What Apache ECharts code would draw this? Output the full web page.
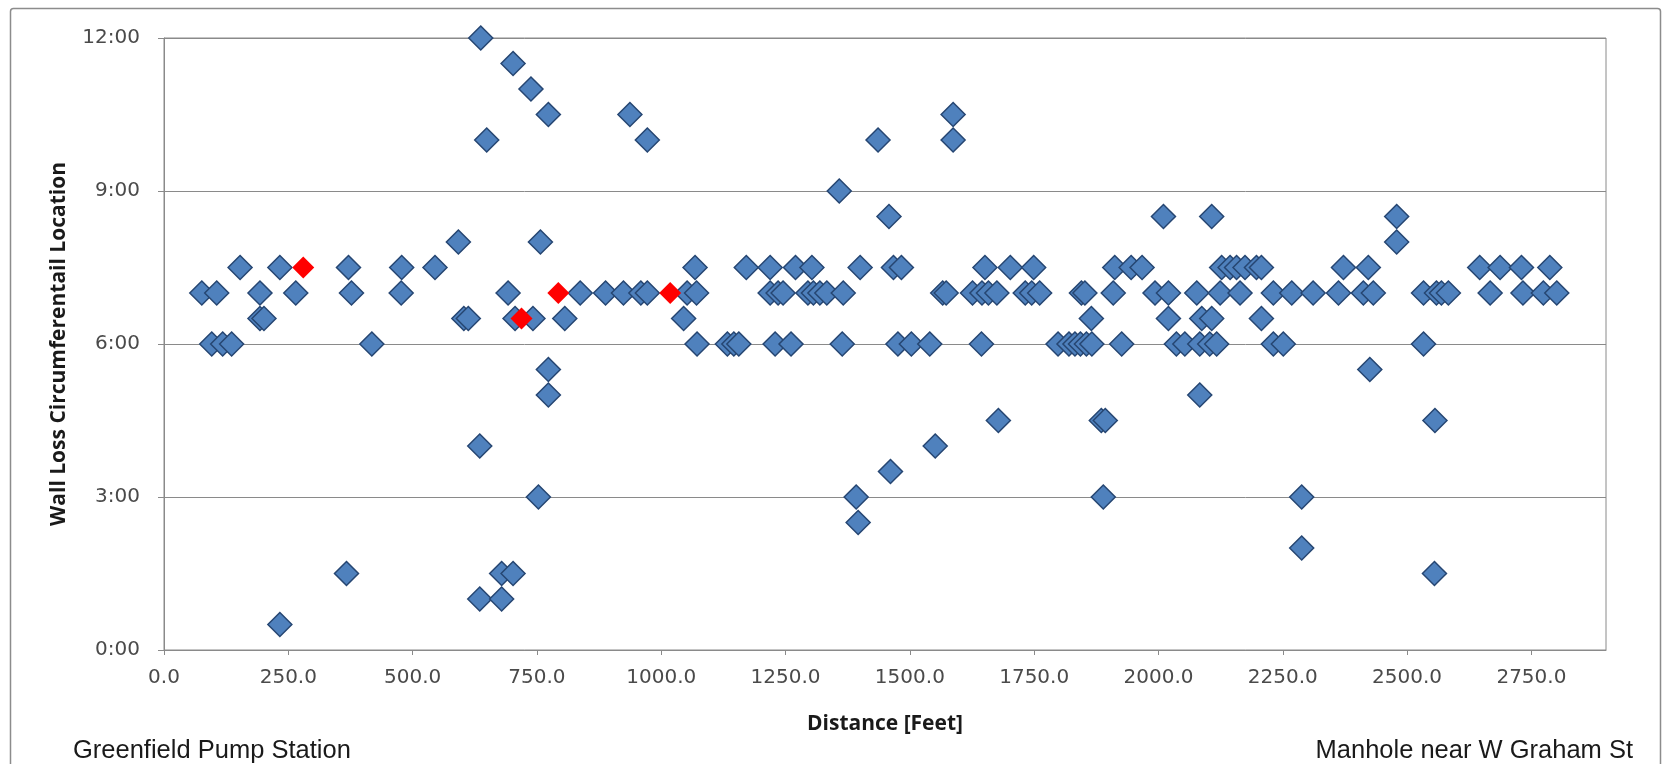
<!DOCTYPE html>
<html>
<head>
<meta charset="utf-8">
<title>Wall Loss Circumferential Location</title>
<script src="https://cdn.jsdelivr.net/npm/echarts@6/dist/echarts.min.js"></script>
<style>
  html, body { margin: 0; padding: 0; background: #fff; }
  #chart { width: 1669px; height: 764px; }
</style>
</head>
<body>
<div id="chart"></div>
<script>
// distance along the pipe (feet) and clock position (hours) of each wall loss reading
var blueFeet = [
  76, 106, 96, 118, 136, 153, 193, 193, 201, 233, 265, 371, 377, 418, 478, 477, 233, 367,
  545, 592, 603, 612, 637, 649, 702, 738, 773, 937, 972, 692, 706, 742, 757, 806, 837, 888, 924, 959, 972, 773, 773, 635, 753, 679, 702, 635, 679,
  1436, 1358, 1458, 1068, 1052, 1071, 1045, 1072, 1133, 1146, 1156, 1171, 1219, 1270, 1303, 1219, 1235, 1245, 1295, 1306, 1319, 1333, 1366, 1229, 1261, 1364, 1400, 1392, 1396, 1461,
  1587, 1587, 1467, 1483, 1476, 1503, 1540, 1566, 1573, 1626, 1645, 1658, 1675, 1651, 1702, 1749, 1732, 1745, 1761, 1644, 1678, 1551, 1798, 1820, 1832, 1843, 1855, 1866, 1845, 1852, 1865, 1909, 1912, 1945, 1967, 1926, 1885, 1893, 1889,
  2010, 2107, 1993, 2020, 2020, 2036, 2053, 2077, 2083, 2087, 2107, 2083, 2103, 2117, 2124, 2127, 2144, 2157, 2174, 2197, 2207, 2164, 2207, 2231, 2231, 2251, 2268, 2311, 2362, 2372, 2422, 2412, 2432, 2425, 2288, 2288,
  2479, 2479, 2533, 2533, 2559, 2569, 2583, 2556, 2555, 2646, 2687, 2730, 2787, 2667, 2733, 2774, 2801
];
var blueClock = [
  7, 7, 6, 6, 6, 7.5, 7, 6.5, 6.5, 7.5, 7, 7.5, 7, 6, 7.5, 7, 0.5, 1.5,
  7.5, 8, 6.5, 6.5, 12, 10, 11.5, 11, 10.5, 10.5, 10, 7, 6.5, 6.5, 8, 6.5, 7, 7, 7, 7, 7, 5.5, 5, 4, 3, 1.5, 1.5, 1, 1,
  10, 9, 8.5, 7.5, 7, 7, 6.5, 6, 6, 6, 6, 7.5, 7.5, 7.5, 7.5, 7, 7, 7, 7, 7, 7, 7, 7, 6, 6, 6, 7.5, 3, 2.5, 3.5,
  10.5, 10, 7.5, 7.5, 6, 6, 6, 7, 7, 7, 7, 7, 7, 7.5, 7.5, 7.5, 7, 7, 7, 6, 4.5, 4, 6, 6, 6, 6, 6, 6, 7, 7, 6.5, 7, 7.5, 7.5, 7.5, 6, 4.5, 4.5, 3,
  8.5, 8.5, 7, 7, 6.5, 6, 6, 7, 5, 6.5, 6.5, 6, 6, 6, 7, 7.5, 7.5, 7.5, 7.5, 7.5, 7.5, 7, 6.5, 7, 6, 6, 7, 7, 7, 7.5, 7.5, 7, 7, 5.5, 3, 2,
  8.5, 8, 6, 7, 7, 7, 7, 4.5, 1.5, 7.5, 7.5, 7.5, 7.5, 7, 7, 7, 7
];
var redFeet = [280, 719, 793, 1018];
var redClock = [7.5, 6.5, 7, 7];

var xTicks = [0, 250, 500, 750, 1000, 1250, 1500, 1750, 2000, 2250, 2500, 2750];
var yTicks = [0, 3, 6, 9, 12];

var blueData = blueFeet.map(function (d, i) { return [d, blueClock[i]]; });
var redData = redFeet.map(function (d, i) { return [d, redClock[i]]; });

function clockLabel(v) {
  var h = Math.floor(v);
  var m = Math.round((v - h) * 60);
  return h + ':' + (m < 10 ? '0' + m : m);
}

var dom = document.getElementById('chart');
var myChart = echarts.init(dom);
var option = {
  animation: false,
  backgroundColor: '#ffffff',
  grid: {
    left: 164, right: 63, top: 38, bottom: 114,
    show: true, borderColor: '#8a8a8a', borderWidth: 1,
    outerBoundsMode: 'none'
  },
  xAxis: {
    type: 'value',
    min: 0, max: 2900,
    name: 'Distance [Feet]',
    nameLocation: 'middle',
    nameGap: 64,
    nameTextStyle: { fontFamily: 'Open Sans', fontWeight: 'bold', fontSize: 21, color: '#1a1a1a' },
    axisLine: { show: true, lineStyle: { color: '#8a8a8a', width: 1 } },
    axisTick: { show: true, length: 5, customValues: xTicks, lineStyle: { color: '#8a8a8a' } },
    axisLabel: {
      customValues: xTicks,
      formatter: function (v) { return v.toFixed(1); },
      fontFamily: 'DejaVu Sans', fontSize: 20, color: '#4a4a4a', margin: 18
    },
    splitLine: { show: false }
  },
  yAxis: {
    type: 'value',
    min: 0, max: 12, interval: 3,
    name: 'Wall Loss Circumferentail Location',
    nameLocation: 'middle',
    nameGap: 94,
    nameTextStyle: { fontFamily: 'Open Sans', fontWeight: 'bold', fontSize: 21, color: '#1a1a1a' },
    axisLine: { show: true, lineStyle: { color: '#8a8a8a', width: 1 } },
    axisTick: { show: true, length: 6, lineStyle: { color: '#8a8a8a' } },
    axisLabel: {
      customValues: yTicks,
      formatter: clockLabel,
      fontFamily: 'DejaVu Sans', fontSize: 20, color: '#4a4a4a', margin: 24
    },
    splitLine: { show: true, lineStyle: { color: '#8a8a8a', width: 1 } }
  },
  graphic: [
    {
      type: 'rect', silent: true,
      shape: { x: 10.5, y: 8.5, width: 1650, height: 800, r: 3 },
      style: { fill: 'none', stroke: '#8c8c8c', lineWidth: 1.5 }
    },
    {
      type: 'text', left: 73, top: 738,
      style: { text: 'Greenfield Pump Station', font: '25.5px "Liberation Sans"', fill: '#1a1a1a' }
    },
    {
      type: 'text', right: 36, top: 738,
      style: { text: 'Manhole near W Graham St', font: '25.5px "Liberation Sans"', fill: '#1a1a1a' }
    }
  ],
  series: [
    {
      name: 'Wall loss',
      type: 'scatter',
      symbol: 'diamond',
      symbolSize: 24,
      itemStyle: { color: '#4f81bd', borderColor: '#264672', borderWidth: 1.5, opacity: 1 },
      data: blueData
    },
    {
      name: 'Wall loss (flagged)',
      type: 'scatter',
      symbol: 'diamond',
      symbolSize: 22,
      itemStyle: { color: '#ff0000', opacity: 1 },
      z: 3,
      data: redData
    }
  ]
};
if (option && typeof option === "object") {
  myChart.setOption(option, true);
}
</script>
</body>
</html>
